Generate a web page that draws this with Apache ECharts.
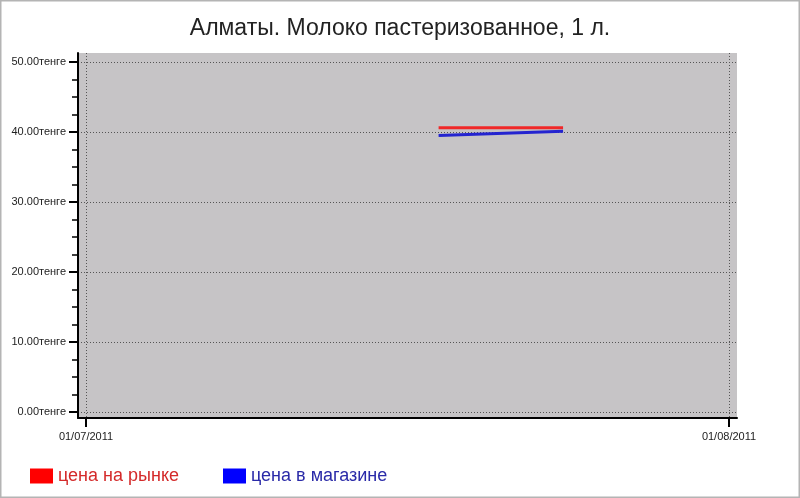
<!DOCTYPE html>
<html><head><meta charset="utf-8">
<script src="https://cdn.jsdelivr.net/npm/echarts@6/dist/echarts.min.js"></script>
<style>html,body{margin:0;padding:0;background:#fff}#c{width:800px;height:498px}</style>
</head><body><div id="c"></div>
<script>
var titleText = 'Алматы. Молоко пастеризованное, 1 л.';
var seriesNames = ['цена на рынке', 'цена в магазине'];
var dates = ['2011-07-18', '2011-07-24'];
var marketPrices = [40.6, 40.6];
var storePrices = [39.5, 40.1];
var xTickDates = ['2011-07-01', '2011-08-01'];
var yTickValues = [0, 10, 20, 30, 40, 50];
var yMinorTickValues = [2.5, 5, 7.5, 12.5, 15, 17.5, 22.5, 25, 27.5, 32.5, 35, 37.5, 42.5, 45, 47.5];

function ts(s){var p=s.split('-');return new Date(+p[0],+p[1]-1,+p[2]).getTime();}
function pad(n){return (n<10?'0':'')+n;}
var DAY = 86400000;
var xTicks = xTickDates.map(ts);
var xMin = xTicks[0] - 0.386*DAY, xMax = xTicks[1] + 0.386*DAY;
var chart = echarts.init(document.getElementById('c'));
var font = 'Arial, "Liberation Sans", sans-serif';
chart.setOption({
  animation: false,
  backgroundColor: '#fff',
  title: {text: titleText, left: 'center', top: 12, textStyle: {fontFamily: font, fontSize: 23, fontWeight: 'normal', color: '#222'}},
  graphic: [{type: 'rect', shape: {x: 0.5, y: 0.5, width: 799, height: 497}, style: {fill: 'none', stroke: '#b4b4b4', lineWidth: 2}, silent: true}],
  grid: {left: 78, right: 63, top: 53, bottom: 80, show: true, backgroundColor: '#c6c4c6', borderWidth: 0},
  legend: {
    left: 25, top: 462, itemWidth: 23, itemHeight: 15, itemGap: 44, icon: 'rect',
    textStyle: {fontFamily: font, fontSize: 18},
    data: [
      {name: seriesNames[0], itemStyle: {color: '#ff0000'}, textStyle: {color: '#d42a2a'}},
      {name: seriesNames[1], itemStyle: {color: '#0000ff'}, textStyle: {color: '#2a2aa8'}}
    ]
  },
  xAxis: {
    type: 'value', min: xMin, max: xMax,
    axisLine: {show: true, onZero: false, lineStyle: {color: '#000', width: 2}},
    axisTick: {show: true, customValues: xTicks, length: 9, lineStyle: {color: '#000', width: 2}},
    axisLabel: {customValues: xTicks, margin: 13, fontFamily: font, fontSize: 11, color: '#222',
      formatter: function(v){var d=new Date(v);return pad(d.getDate())+'/'+pad(d.getMonth()+1)+'/'+d.getFullYear();}},
    splitLine: {show: true, lineStyle: {color: '#555', type: [1, 2], width: 1}}
  },
  yAxis: [{
    type: 'value', position: 'left', min: -0.86, max: 51.29,
    axisLine: {show: true, onZero: false, lineStyle: {color: '#000', width: 2}},
    axisTick: {show: true, customValues: yTickValues, length: 9, lineStyle: {color: '#000', width: 2}},
    axisLabel: {customValues: yTickValues, margin: 12, fontFamily: font, fontSize: 11, color: '#222',
      formatter: function(v){return v.toFixed(2)+'тенге';}},
    splitLine: {show: true, lineStyle: {color: '#555', type: [1, 2], width: 1}}
  }, {
    type: 'value', position: 'left', min: -0.86, max: 51.29,
    axisLine: {show: false, onZero: false},
    axisTick: {show: true, customValues: yMinorTickValues, length: 6, lineStyle: {color: '#000', width: 1.5}},
    axisLabel: {show: false},
    splitLine: {show: false}
  }],
  series: [
    {name: seriesNames[0], type: 'line', symbol: 'none', color: '#ff0000', lineStyle: {width: 3, color: '#f02828'},
     data: dates.map(function(d,i){return [ts(d), marketPrices[i]];})},
    {name: seriesNames[1], type: 'line', symbol: 'none', color: '#0000ff', lineStyle: {width: 3, color: '#2424d0'},
     data: dates.map(function(d,i){return [ts(d), storePrices[i]];})}
  ]
});
</script></body></html>
